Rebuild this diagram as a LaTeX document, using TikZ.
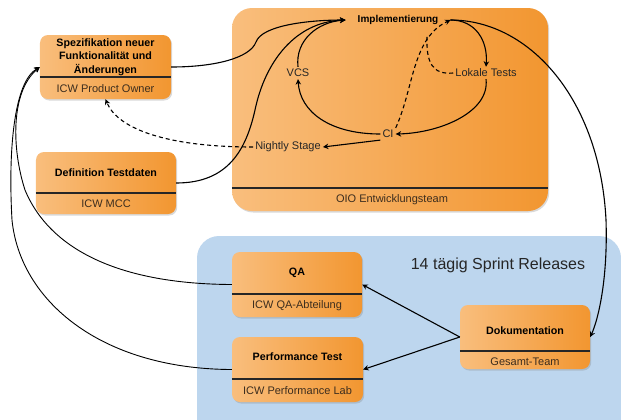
\documentclass[tikz,border=0pt]{standalone}
\usepackage{fontspec}
\setmainfont{Liberation Sans}
\usetikzlibrary{arrows.meta,shadows,calc}
\definecolor{oL}{RGB}{249,190,125}
\definecolor{oR}{RGB}{242,150,48}
\definecolor{bluebg}{RGB}{189,214,238}
\definecolor{subtxt}{RGB}{60,45,30}
\newcommand\fsz{\fontsize{11bp}{13bp}\selectfont}
\newcommand\fszt{\fontsize{10.7bp}{13.3bp}\selectfont}
\begin{document}
\begin{tikzpicture}[x=1bp,y=-1bp,
  obox/.style={rounded corners=8bp, left color=oL, right color=oR, draw=none,
    drop shadow={shadow xshift=1.2bp,shadow yshift=-1.5bp,opacity=0.3}, inner sep=0pt},
  ttl/.style={font=\fszt\bfseries, align=center, inner sep=1bp},
  lbl/.style={font=\fsz, text=subtxt, inner sep=1bp},
  itxt/.style={font=\fsz, text=black!85, inner sep=2bp},
  div/.style={line width=1.4bp, draw=black!85},
  con/.style={line width=1.1bp, -{Stealth[length=5.5bp,width=5.5bp]}},
  dcon/.style={con, dash pattern=on 4bp off 3bp},
  plain/.style={line width=1.1bp, dash pattern=on 4bp off 3bp},
]
\useasboundingbox (0,0) rectangle (621,419);
\begin{scope}
\clip (0,0) rectangle (621,419);
\fill[bluebg, rounded corners=22bp] (197,236) rectangle (621,445);
\end{scope}
\node[font=\fontsize{16bp}{18bp}\selectfont, text=black!85] (sprint) at (498,265) {14 tägig Sprint Releases};

% big development box
\node[obox, rounded corners=20bp, minimum width=316bp, minimum height=203bp] (dev) at (390,109.5) {};
\draw[div] (dev.west |- 0,188) -- (dev.east |- 0,188);
\node[lbl] (devlbl) at (392,200) {OIO Entwicklungsteam};

% spec box
\node[obox, minimum width=131bp, minimum height=64bp] (spec) at (105.5,67) {};
\node[ttl] (spect) at (105.5,57) {Spezifikation neuer\\Funktionalität und\\Änderungen};
\draw[div] (spec.west |- 0,77) -- (spec.east |- 0,77);
\node[lbl] (specl) at (105.5,88.5) {ICW Product Owner};

% definition testdaten
\node[obox, minimum width=140bp, minimum height=62bp] (deftd) at (106,183) {};
\node[ttl] (deftdt) at (106,173) {Definition Testdaten};
\draw[div] (deftd.west |- 0,193) -- (deftd.east |- 0,193);
\node[lbl] (deftdl) at (106,203.5) {ICW MCC};

% QA
\node[obox, minimum width=130bp, minimum height=65bp] (qa) at (297,284.5) {};
\node[ttl] (qat) at (297,273) {QA};
\draw[div] (qa.west |- 0,294) -- (qa.east |- 0,294);
\node[lbl] (qal) at (297,306) {ICW QA-Abteilung};

% Performance
\node[obox, minimum width=131bp, minimum height=65bp] (perf) at (297.5,369.5) {};
\node[ttl] (perft) at (297.5,357) {Performance Test};
\draw[div] (perf.west |- 0,379) -- (perf.east |- 0,379);
\node[lbl] (perfl) at (297.5,391) {ICW Performance Lab};

% Dokumentation
\node[obox, minimum width=130bp, minimum height=64bp] (doku) at (525,337) {};
\node[ttl] (dokut) at (525,331) {Dokumentation};
\draw[div] (doku.west |- 0,351) -- (doku.east |- 0,351);
\node[lbl] (dokul) at (525,361.5) {Gesamt-Team};

% inner texts
\node[font=\fontsize{10bp}{12bp}\selectfont\bfseries, inner sep=1bp, inner xsep=12bp] (impl) at (398,20) {Implementierung};
\node[itxt] (vcs) at (298,73) {VCS};
\node[itxt] (lokal) at (486,73) {Lokale Tests};
\node[itxt] (ci) at (388,134) {CI};
\node[itxt] (nightly) at (288,147) {Nightly Stage};
\coordinate (join) at (427,36);

% connectors
\draw[con] (spec.east) .. controls (215,67) and (250,58) .. (256,42)
  .. controls (262,25) and (310,20) .. (impl.west);
\draw[con] (deftd.east) .. controls (228,183) and (246,150) .. (255,110)
  .. controls (265,62) and (295,22) .. (impl.west);
\draw[con] (vcs.north) .. controls (295,40) and (318,22) .. (impl.west);
\draw[con] (impl.east) .. controls (475,20) and (488,40) .. (lokal.north);
\draw[con] (lokal.south) .. controls (490,112) and (440,133) .. (ci.east);
\draw[con] (ci.west) .. controls (330,134) and (300,112) .. (vcs.south);
\draw[con] (ci.south west) -- (nightly.east);
\draw[dcon] (ci.north east) .. controls (414,88) and (412,38) .. (impl.east);
\draw[plain] (lokal.west) .. controls (432,75) and (426,62) .. (join);
\draw[dcon] (nightly.west) .. controls (170,147) and (118,130) .. (spec.south);
\draw[con] (impl.east) .. controls (530,20) and (600,100) .. (606,220)
  .. controls (608,280) and (598,320) .. (doku.east);
\draw[con] (doku.west) -- (qa.east);
\draw[con] (doku.west) -- (perf.east);
\draw[con, line width=0.9bp] (qa.west) .. controls (120,284) and (50,250) .. (25,190)
  .. controls (12,150) and (10,92) .. (spec.west);
\draw[con, line width=0.9bp] (perf.west) .. controls (100,369) and (20,300) .. (12,220)
  .. controls (8,150) and (14,82) .. (spec.west);
\end{tikzpicture}
\end{document}
